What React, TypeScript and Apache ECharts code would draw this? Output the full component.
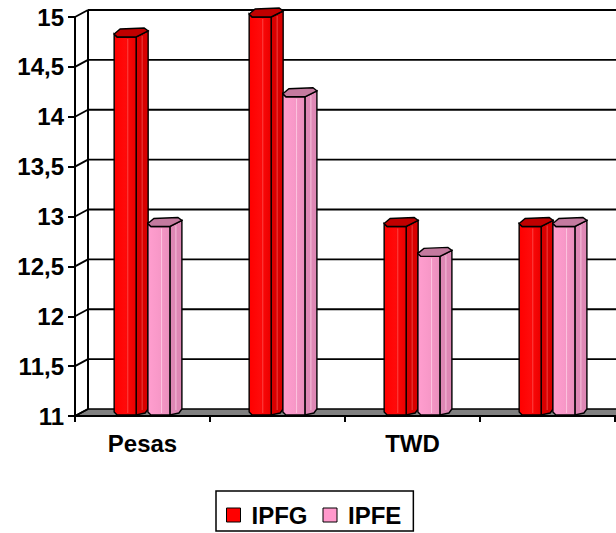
import React, { useEffect, useRef } from "react";
import * as echarts from "echarts";

const categories = ["Pesas", "", "TWD", ""];
const ipfg = [14.8, 15.0, 12.9, 12.9];
const ipfe = [12.9, 14.2, 12.6, 12.9];
const yTicks = [11, 11.5, 12, 12.5, 13, 13.5, 14, 14.5, 15];
const seriesNames = ["IPFG", "IPFE"];

const Y_MIN = 11;
const Y_MAX = 15;
const WALL_DX = 13;
const WALL_DY = -7;

const FONT = "Arial, 'Liberation Sans', Helvetica, sans-serif";

const palettes = [
  {
    legend: "#FF0000",
    front: ["#FF0000", "#FF0A0A", "#EA0000"],
    side: "#D80000",
    top: "#C00000",
    hi: "rgba(255,120,120,0.55)",
  },
  {
    legend: "#FF99CC",
    front: ["#FF9ECF", "#F898C8", "#E98FBC"],
    side: "#DE88B5",
    top: "#C47A9F",
    hi: "rgba(255,215,235,0.7)",
  },
];

function wallRender(params: any, api: any) {
  const cs = params.coordSys;
  const v = api.value(1);
  const p = api.coord([0, v]);
  const y = p[1];
  const left = cs.x;
  const right = cs.x + cs.width + 2;
  const children: any[] = [];
  const lineStyle = { stroke: "#000", lineWidth: 1.8 };
  if (v === Y_MIN) {
    children.push({
      type: "polygon",
      shape: {
        points: [
          [left, y],
          [left + WALL_DX, y + WALL_DY],
          [right, y + WALL_DY],
          [right, y],
        ],
      },
      style: { fill: "#808080", stroke: "#000", lineWidth: 1.6 },
    });
    const yTop = api.coord([0, Y_MAX])[1];
    children.push({
      type: "line",
      shape: { x1: left + WALL_DX, y1: yTop + WALL_DY, x2: left + WALL_DX, y2: y + WALL_DY },
      style: { stroke: "#000", lineWidth: 2 },
    });
  } else {
    children.push({
      type: "line",
      shape: { x1: left + WALL_DX, y1: y + WALL_DY, x2: right, y2: y + WALL_DY },
      style: lineStyle,
    });
  }
  children.push({
    type: "line",
    shape: { x1: left, y1: y, x2: left + WALL_DX, y2: y + WALL_DY },
    style: { stroke: "#000", lineWidth: 1.8 },
  });
  return { type: "group", children };
}

function makeBarRender(si: number) {
  const pal = palettes[si];
  return (params: any, api: any) => {
    const cat = api.value(0);
    const v = api.value(1);
    const topP = api.coord([cat, v]);
    const baseP = api.coord([cat, Y_MIN]);
    const cw = api.size([1, 0])[0];
    const x0 = topP[0] + (si === 0 ? -0.21 : 0.04) * cw;
    const w = 0.163 * cw;
    const x1 = x0 + w;
    const yT = topP[1];
    const yB = baseP[1] - 1;
    const dx = 12;
    const dy = -6;
    const stroke = { stroke: "#000", lineWidth: 1.4 };
    const frontFill = new echarts.graphic.LinearGradient(0, 0, 1, 0, [
      { offset: 0, color: pal.front[0] },
      { offset: 0.5, color: pal.front[1] },
      { offset: 1, color: pal.front[2] },
    ]);
    return {
      type: "group",
      children: [
        {
          type: "polygon",
          shape: {
            points: [
              [x1, yT],
              [x1 + dx, yT + dy],
              [x1 + dx, yB + dy],
              [x1 + dx - 3, yB + dy + 4],
              [x1, yB],
            ],
          },
          style: { fill: pal.side, ...stroke },
        },
        {
          type: "polygon",
          shape: {
            points: [
              [x0, yT - 3],
              [x0 + 3, yT],
              [x1, yT],
              [x1, yB],
              [x0 + 3, yB],
              [x0, yB - 3],
            ],
          },
          style: { fill: frontFill, ...stroke },
        },
        {
          type: "line",
          shape: { x1: x0 + w * 0.62, y1: yT + 2, x2: x0 + w * 0.62, y2: yB - 2 },
          style: { stroke: pal.hi, lineWidth: 1 },
        },
        {
          type: "line",
          shape: { x1: x1 + 6, y1: yT + dy / 2 + 2, x2: x1 + 6, y2: yB + dy / 2 - 2 },
          style: { stroke: pal.hi, lineWidth: 1 },
        },
        {
          type: "polygon",
          shape: {
            points: [
              [x0, yT - 3],
              [x0 + 6, yT - 8],
              [x1 + 8, yT - 9],
              [x1 + dx, yT + dy],
              [x1, yT],
              [x0 + 3, yT],
            ],
          },
          style: { fill: pal.top, ...stroke },
        },
      ],
    };
  };
}

export default function App() {
  const ref = useRef<HTMLDivElement>(null);
  useEffect(() => {
    if (!ref.current) return;
    const chart = echarts.init(ref.current, undefined, { renderer: "svg" });
    const seriesData = [ipfg, ipfe];
    chart.setOption({
      animation: false,
      backgroundColor: "#ffffff",
      textStyle: { fontFamily: FONT },
      grid: { left: 75, right: 1, top: 17, bottom: 117, containLabel: false },
      legend: {
        data: seriesNames,
        left: 216,
        top: 491,
        orient: "horizontal",
        icon: "rect",
        itemWidth: 14,
        itemHeight: 14,
        itemGap: 15,
        padding: [12, 12, 4, 10],
        borderColor: "#000",
        borderWidth: 1.5,
        backgroundColor: "#fff",
        itemStyle: { borderColor: "#000", borderWidth: 1 },
        textStyle: {
          fontFamily: FONT,
          fontSize: 24,
          fontWeight: "bold",
          color: "#000",
          padding: [0, 0, 0, 6],
        },
      },
      xAxis: {
        type: "category",
        data: categories,
        axisLine: { show: true, lineStyle: { color: "#000", width: 2 } },
        axisTick: { show: true, alignWithLabel: false, length: 6, lineStyle: { color: "#000", width: 2 } },
        axisLabel: {
          interval: 0,
          margin: 15,
          fontFamily: FONT,
          fontSize: 24,
          fontWeight: "bold",
          color: "#000",
        },
        splitLine: { show: false },
        z: 10,
      },
      yAxis: {
        type: "value",
        min: Y_MIN,
        max: Y_MAX,
        interval: 0.5,
        axisLine: { show: true, lineStyle: { color: "#000", width: 2 } },
        axisTick: { show: true, length: 7, lineStyle: { color: "#000", width: 2 } },
        axisLabel: {
          margin: 11,
          fontFamily: FONT,
          fontSize: 24,
          fontWeight: "bold",
          color: "#000",
          formatter: (val: number) => String(val).replace(".", ","),
        },
        splitLine: { show: false },
        z: 10,
      },
      series: [
        {
          type: "custom",
          name: "walls",
          renderItem: wallRender,
          data: yTicks.map((t) => [0, t]),
          encode: { x: 0, y: 1 },
          silent: true,
          z: 1,
        },
        ...seriesNames.map((name, si) => ({
          type: "custom",
          name,
          renderItem: makeBarRender(si),
          itemStyle: { color: palettes[si].legend },
          data: seriesData[si].map((v, i) => [i, v]),
          encode: { x: 0, y: 1 },
          z: 3 + si,
        })),
      ],
    });
    return () => chart.dispose();
  }, []);
  return (
    <div
      ref={ref}
      style={{ position: "absolute", left: 0, top: 0, width: 616, height: 533 }}
    />
  );
}
